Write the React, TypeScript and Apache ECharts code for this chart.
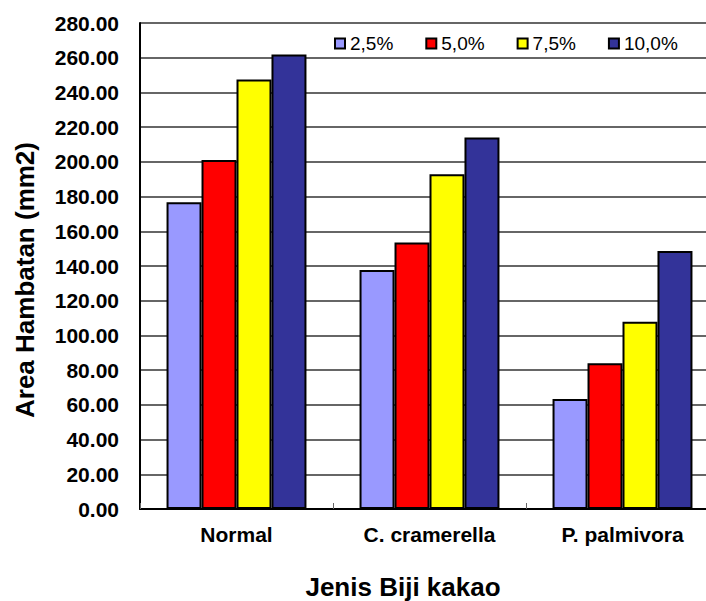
import React, { useEffect, useRef } from "react";
import * as echarts from "echarts";

const categories = ["Normal", "C. cramerella", "P. palmivora"];
const seriesNames = ["2,5%", "5,0%", "7,5%", "10,0%"];
const values25 = [176.7, 137.7, 63.4];
const values50 = [201.0, 153.6, 83.9];
const values75 = [247.5, 192.8, 107.9];
const values100 = [261.9, 214.1, 148.6];
const colors = ["#9999FF", "#FF0000", "#FFFF00", "#333399"];
const yTitle = "Area Hambatan (mm2)";
const xTitle = "Jenis Biji kakao";

export default function App() {
  const ref = useRef<HTMLDivElement>(null);
  useEffect(() => {
    if (!ref.current) return;
    const chart = echarts.init(ref.current, null, { renderer: "svg" });
    const data = [values25, values50, values75, values100];
    const font = "Liberation Sans, Arial, sans-serif";
    chart.setOption({
      animation: false,
      textStyle: { fontFamily: font },
      grid: { left: 140, top: 23, bottom: 92, right: 1, containLabel: false },
      legend: {
        data: seriesNames,
        left: 334,
        top: 34,
        padding: 0,
        itemWidth: 10,
        itemHeight: 10,
        itemGap: 32,
        icon: "rect",
        textStyle: { fontFamily: font, fontSize: 19, color: "#000" },
      },
      xAxis: {
        type: "category",
        data: categories,
        axisLine: { lineStyle: { color: "#000", width: 2 } },
        axisTick: { show: true, inside: true, length: 6, lineStyle: { color: "#666" } },
        axisLabel: { fontFamily: font, fontSize: 21, fontWeight: "bold", color: "#000", margin: 15 },
      },
      yAxis: {
        type: "value",
        min: 0,
        max: 280,
        interval: 20,
        axisLine: { show: true, lineStyle: { color: "#000", width: 2 } },
        axisTick: { show: false },
        splitLine: { lineStyle: { color: "#333", width: 1.5 } },
        axisLabel: {
          fontFamily: font,
          fontSize: 21,
          fontWeight: "bold",
          color: "#000",
          margin: 21,
          formatter: (v: number) => v.toFixed(2),
        },
      },
      graphic: [
        {
          type: "text",
          x: 25,
          y: 280,
          rotation: Math.PI / 2,
          style: {
            text: yTitle,
            fontFamily: font,
            fontSize: 26,
            fontWeight: "bold",
            fill: "#000",
            align: "center",
            verticalAlign: "middle",
          },
        },
        {
          type: "text",
          x: 403,
          y: 587,
          style: {
            text: xTitle,
            fontFamily: font,
            fontSize: 26,
            fontWeight: "bold",
            fill: "#000",
            align: "center",
            verticalAlign: "middle",
          },
        },
      ],
      series: seriesNames.map((name, i) => ({
        name,
        type: "bar",
        data: data[i],
        barGap: "0%",
        barCategoryGap: "27.5%",
        itemStyle: { color: colors[i], borderColor: "#000", borderWidth: 2 },
      })),
    });
    return () => chart.dispose();
  }, []);
  return (
    <div
      style={{ position: "fixed", left: 0, top: 0, width: 706, height: 601, overflow: "hidden", background: "#fff" }}
    >
      <div ref={ref} style={{ width: 720, height: 601 }} />
    </div>
  );
}
